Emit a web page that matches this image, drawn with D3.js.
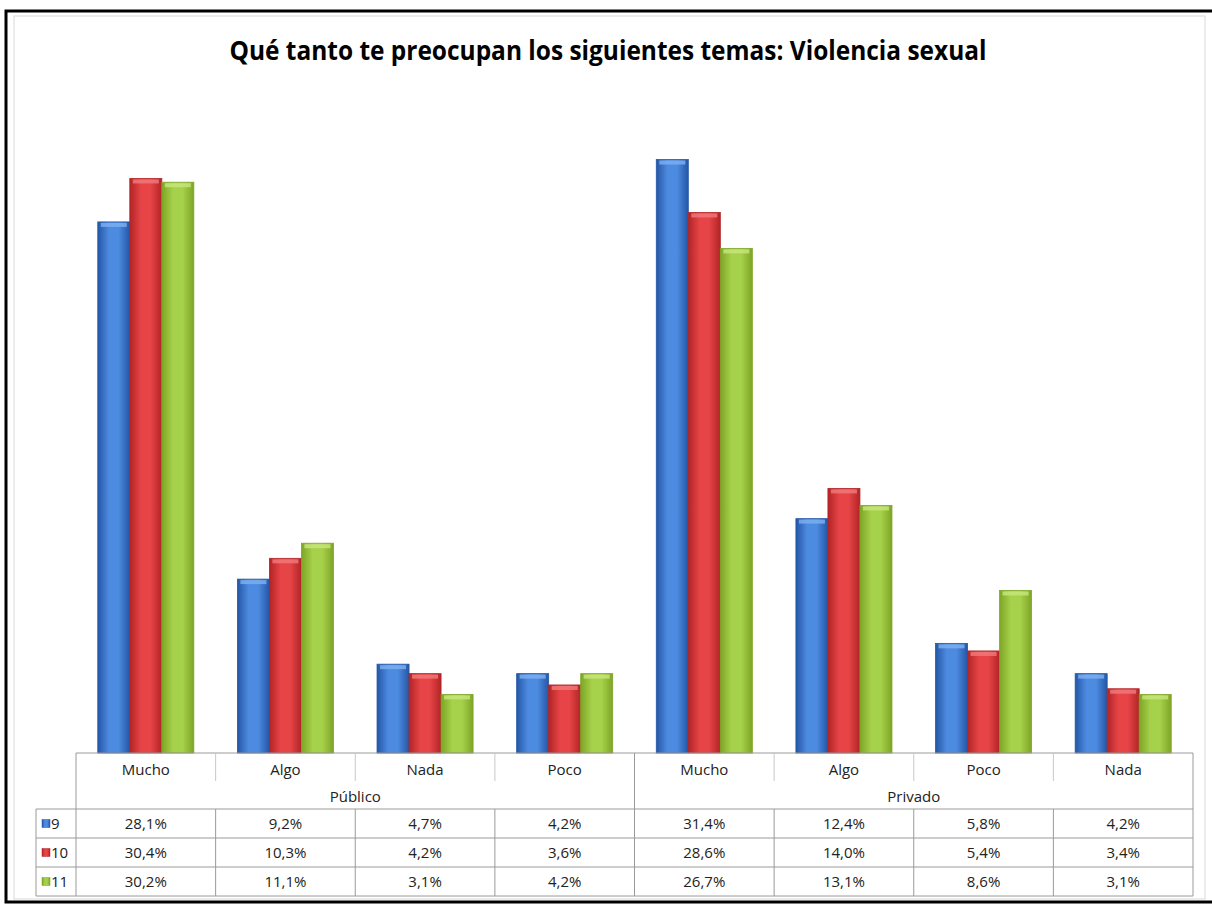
<!DOCTYPE html>
<html><head><meta charset="utf-8">
<script src="https://cdn.jsdelivr.net/npm/d3@7"></script>
<style>body{margin:0;background:#fff}svg{display:block}</style>
</head><body>
<script>
const title = "Qué tanto te preocupan los siguientes temas: Violencia sexual";
const groups = ["Público", "Privado"];
const categories = ["Mucho", "Algo", "Nada", "Poco", "Mucho", "Algo", "Poco", "Nada"];
const series = ["9", "10", "11"];
const s9  = [28.1, 9.2, 4.7, 4.2, 31.4, 12.4, 5.8, 4.2];
const s10 = [30.4, 10.3, 4.2, 3.6, 28.6, 14.0, 5.4, 3.4];
const s11 = [30.2, 11.1, 3.1, 4.2, 26.7, 13.1, 8.6, 3.1];
const values = [s9, s10, s11];
const labels9  = ["28,1%","9,2%","4,7%","4,2%","31,4%","12,4%","5,8%","4,2%"];
const labels10 = ["30,4%","10,3%","4,2%","3,6%","28,6%","14,0%","5,4%","3,4%"];
const labels11 = ["30,2%","11,1%","3,1%","4,2%","26,7%","13,1%","8,6%","3,1%"];
const tableLabels = [labels9, labels10, labels11];

const colors = [
  {edge:"#2456a6", mid:"#4d8be0", light:"#7fb0f0"},
  {edge:"#b22426", mid:"#e64446", light:"#f27b7c"},
  {edge:"#7ea526", mid:"#a6d14a", light:"#c8e67e"}
];

const W = 1212, H = 904;
const svg = d3.select("body").append("svg").attr("width", W).attr("height", H);
const defs = svg.append("defs");
colors.forEach((c, i) => {
  const g = defs.append("linearGradient").attr("id", "g" + i).attr("x1", "0").attr("x2", "1").attr("y1", "0").attr("y2", "0");
  g.append("stop").attr("offset", "0").attr("stop-color", c.edge);
  g.append("stop").attr("offset", "0.35").attr("stop-color", c.mid);
  g.append("stop").attr("offset", "0.65").attr("stop-color", c.mid);
  g.append("stop").attr("offset", "1").attr("stop-color", c.edge);
});

// frame
svg.append("rect").attr("x", 6).attr("y", 11).attr("width", W - 4).attr("height", H - 13)
  .attr("fill", "#fff").attr("stroke", "#000").attr("stroke-width", 3);
svg.append("rect").attr("x", 14).attr("y", 16).attr("width", 1191).attr("height", 883)
  .attr("fill", "none").attr("stroke", "#d9d9d9").attr("stroke-width", 1);

svg.append("text").attr("x", 608).attr("y", 60).attr("text-anchor", "middle")
  .attr("font-family", "Open Sans, sans-serif").attr("font-weight", "bold").attr("font-size", 26)
  .attr("textLength", 757).attr("lengthAdjust", "spacingAndGlyphs")
  .attr("fill", "#000").text(title);

const left = 76, right = 1193, base = 753;
const x = d3.scaleBand().domain(d3.range(categories.length)).range([left, right])
  .paddingInner(0.312).paddingOuter(0.156);
const xs = d3.scaleBand().domain(d3.range(series.length)).range([0, x.bandwidth()]);
const y = d3.scaleLinear().domain([0, 35]).range([base, base - 35 * 18.9]);

const gBars = svg.append("g");
values.forEach((arr, si) => {
  const gs = gBars.append("g");
  gs.selectAll("rect.bar").data(arr).join("rect").attr("class", "bar")
    .attr("x", (d, i) => x(i) + xs(si))
    .attr("y", d => y(d))
    .attr("width", xs.bandwidth())
    .attr("height", d => base - y(d))
    .attr("fill", `url(#g${si})`)
    .attr("stroke", colors[si].edge).attr("stroke-width", 0.8);
  gs.selectAll("rect.top").data(arr).join("rect").attr("class", "top")
    .attr("x", (d, i) => x(i) + xs(si) + 3)
    .attr("y", d => y(d) + 1)
    .attr("width", xs.bandwidth() - 6)
    .attr("height", 4)
    .attr("fill", colors[si].light).attr("opacity", 0.8);
});

// table
const tbl = svg.append("g").attr("font-family", "Open Sans, sans-serif").attr("font-size", 15).attr("fill", "#222");
const lineC = "#9a9a9a";
const step = x.step();
const colX = i => left + i * step;
const rowTop = [753, 809, 838, 867, 896];
tbl.append("line").attr("x1", left).attr("x2", right).attr("y1", 753).attr("y2", 753).attr("stroke", lineC);
[809, 838, 867, 896].forEach(yy => tbl.append("line").attr("x1", 36).attr("x2", right).attr("y1", yy).attr("y2", yy).attr("stroke", lineC));
tbl.append("line").attr("x1", 36).attr("x2", 36).attr("y1", 809).attr("y2", 896).attr("stroke", lineC);
tbl.append("line").attr("x1", left).attr("x2", left).attr("y1", 753).attr("y2", 896).attr("stroke", lineC);
tbl.append("line").attr("x1", right).attr("x2", right).attr("y1", 753).attr("y2", 896).attr("stroke", lineC);
for (let i = 1; i < categories.length; i++) {
  const y1 = (i === 4) ? 753 : 809;
  tbl.append("line").attr("x1", colX(i)).attr("x2", colX(i)).attr("y1", y1).attr("y2", 896).attr("stroke", lineC);
  if (i !== 4) tbl.append("line").attr("x1", colX(i)).attr("x2", colX(i)).attr("y1", 753).attr("y2", 781).attr("stroke", "#c8c8c8");
}
categories.forEach((c, i) => {
  tbl.append("text").attr("x", colX(i) + step / 2).attr("y", 775).attr("text-anchor", "middle").text(c);
});
groups.forEach((g, gi) => {
  tbl.append("text").attr("x", colX(gi * 4) + step * 2).attr("y", 802).attr("text-anchor", "middle").text(g);
});
tableLabels.forEach((row, ri) => {
  const cy = (rowTop[ri + 1] + rowTop[ri + 2]) / 2;
  row.forEach((t, i) => {
    tbl.append("text").attr("x", colX(i) + step / 2).attr("y", cy + 5.5).attr("text-anchor", "middle").text(t);
  });
  tbl.append("rect").attr("x", 42).attr("y", cy - 4).attr("width", 8).attr("height", 8)
    .attr("fill", `url(#g${ri})`).attr("stroke", colors[ri].edge).attr("stroke-width", 0.5);
  tbl.append("text").attr("x", 51).attr("y", cy + 5.5).text(series[ri]);
});
</script>
</body></html>
